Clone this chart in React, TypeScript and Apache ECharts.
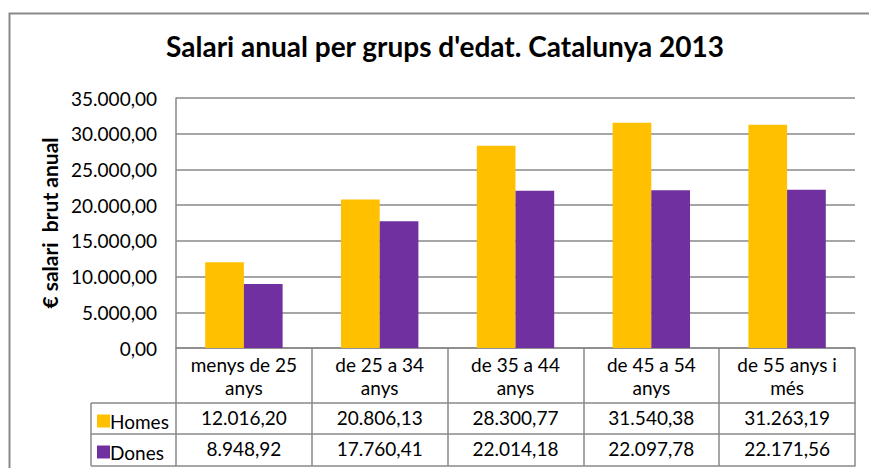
import React, { useEffect, useRef } from "react";
import * as echarts from "echarts";

const title = "Salari anual per grups d'edat. Catalunya 2013";
const yAxisName = "€ salari  brut anual";
const categories = [
  "menys de 25\nanys",
  "de 25 a 34\nanys",
  "de 35 a 44\nanys",
  "de 45 a 54\nanys",
  "de 55 anys i\nmés",
];
const seriesNames = ["Homes", "Dones"];
const homes = [12016.2, 20806.13, 28300.77, 31540.38, 31263.19];
const dones = [8948.92, 17760.41, 22014.18, 22097.78, 22171.56];
const yMin = 0;
const yMax = 35000;
const yInterval = 5000;

const FONT = "Lato";
const LINE = "#898989";

function fmt(v: number): string {
  const [ip, dp] = v.toFixed(2).split(".");
  const withDots = ip.replace(/\B(?=(\d{3})+(?!\d))/g, ".");
  return withDots + "," + dp;
}

export default function App() {
  const ref = useRef<HTMLDivElement>(null);
  useEffect(() => {
    if (!ref.current) return;
    const chart = echarts.init(ref.current, null, { renderer: "svg" });
    const tableAxis = (offset: number, values: number[] | null) => ({
      type: "category",
      data: categories,
      position: "bottom",
      offset,
      axisLine: { show: true, lineStyle: { color: LINE, width: 1.5 } },
      axisTick: { show: false },
      axisLabel: {
        show: values !== null,
        margin: 4,
        fontFamily: FONT,
        fontSize: 19,
        lineHeight: 21,
        color: "#000",
        formatter: (_v: string, i: number) => (values ? fmt(values[i]) : ""),
      },
      splitLine: { show: false },
    });
    chart.setOption({
      animation: false,
      backgroundColor: "#fff",
      title: {
        text: title,
        left: 445,
        top: 32,
        padding: 0,
        textAlign: "center",
        textStyle: { fontFamily: FONT, fontSize: 28, fontWeight: "bold", color: "#000" },
      },
      legend: {
        orient: "vertical",
        left: 97,
        top: 411,
        padding: 0,
        itemWidth: 13,
        itemHeight: 13,
        itemGap: 11,
        icon: "rect",
        selectedMode: false,
        data: seriesNames,
        textStyle: {
          fontFamily: FONT,
          fontSize: 19,
          lineHeight: 20,
          color: "#000",
          padding: [0, 0, 0, -5],
        },
      },
      grid: { left: 176, right: 14, top: 98, bottom: 120, containLabel: false },
      xAxis: [
        {
          type: "category",
          data: categories,
          position: "bottom",
          axisLine: { show: true, lineStyle: { color: LINE, width: 1.5 } },
          axisTick: { show: true, length: 118, lineStyle: { color: LINE, width: 1.5 } },
          axisLabel: {
            margin: 5,
            fontFamily: FONT,
            fontSize: 19,
            lineHeight: 23,
            color: "#000",
            interval: 0,
          },
        },
        tableAxis(55, homes),
        tableAxis(86, dones),
        tableAxis(118, null),
      ],
      yAxis: {
        type: "value",
        min: yMin,
        max: yMax,
        interval: yInterval,
        name: yAxisName,
        nameLocation: "middle",
        nameGap: 104,
        nameTextStyle: { fontFamily: FONT, fontSize: 21, fontWeight: "bold", color: "#000" },
        axisLine: { show: true, lineStyle: { color: LINE, width: 1.5 } },
        axisTick: { show: false },
        splitLine: { show: true, lineStyle: { color: LINE, width: 1.5 } },
        axisLabel: {
          margin: 19,
          fontFamily: FONT,
          fontSize: 19,
          color: "#000",
          formatter: (v: number) => fmt(v),
        },
      },
      series: [
        {
          name: seriesNames[0],
          type: "bar",
          data: homes,
          barGap: "0%",
          barCategoryGap: "43%",
          itemStyle: { color: "#FFC000" },
        },
        {
          name: seriesNames[1],
          type: "bar",
          data: dones,
          barGap: "0%",
          barCategoryGap: "43%",
          itemStyle: { color: "#7030A0" },
        },
      ],
      graphic: [
        {
          type: "rect",
          shape: { x: 9.5, y: 13.5, width: 900, height: 500 },
          style: { fill: "none", stroke: LINE, lineWidth: 2 },
          silent: true,
        },
        { type: "line", shape: { x1: 91, y1: 403, x2: 176, y2: 403 }, style: { stroke: LINE, lineWidth: 1.5 } },
        { type: "line", shape: { x1: 91, y1: 434, x2: 176, y2: 434 }, style: { stroke: LINE, lineWidth: 1.5 } },
        { type: "line", shape: { x1: 91, y1: 466, x2: 176, y2: 466 }, style: { stroke: LINE, lineWidth: 1.5 } },
        { type: "line", shape: { x1: 91, y1: 403, x2: 91, y2: 466 }, style: { stroke: LINE, lineWidth: 1.5 } },
      ],
    });
    return () => chart.dispose();
  }, []);
  return <div ref={ref} style={{ width: 869, height: 468, position: "absolute", left: 0, top: 0 }} />;
}
